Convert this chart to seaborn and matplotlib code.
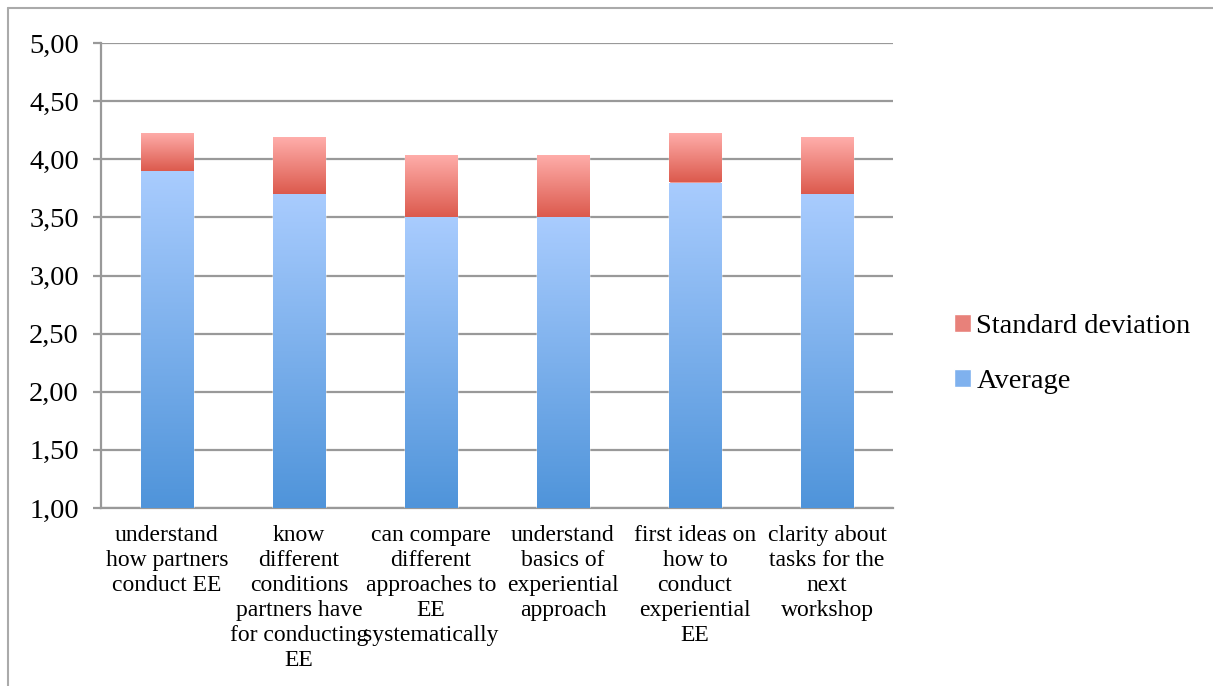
import seaborn as sns
import matplotlib.pyplot as plt
import matplotlib.ticker as mticker
import matplotlib.patches as mpatches
from matplotlib.colors import LinearSegmentedColormap
from matplotlib.lines import Line2D
import numpy as np
import pandas as pd

# data
categories = ['understand how partners conduct EE',
              'know different conditions partners have for conducting EE',
              'can compare different approaches to EE systematically',
              'understand basics of experiential approach',
              'first ideas on how to conduct experiential EE',
              'clarity about tasks for the next workshop']
tick_labels = ['understand\nhow partners\nconduct EE',
               'know\ndifferent\nconditions\npartners have\nfor conducting\nEE',
               'can compare\ndifferent\napproaches to\nEE\nsystematically',
               'understand\nbasics of\nexperiential\napproach',
               'first ideas on\nhow to\nconduct\nexperiential\nEE',
               'clarity about\ntasks for the\nnext\nworkshop']
average = [3.90, 3.70, 3.50, 3.50, 3.80, 3.70]
std_dev = [0.33, 0.49, 0.54, 0.54, 0.43, 0.49]

df = pd.DataFrame({'Category': categories, 'Average': average, 'SD': std_dev})
df['Total'] = df['Average'] + df['SD']

sns.set_style('white')
plt.rcParams['font.family'] = ['Liberation Serif', 'DejaVu Serif']
plt.rcParams['text.color'] = 'black'

fig = plt.figure(figsize=(12.13, 6.86), dpi=100)
ax = fig.add_axes([101 / 1213, 1 - 508 / 686, (893 - 101) / 1213, (508 - 43) / 686])

ymin, ymax = 1.0, 5.0
sns.barplot(data=df, x='Category', y='Total', color='#e8817a', width=0.4,
            saturation=1, ax=ax, zorder=3)
sns.barplot(data=df, x='Category', y='Average', color='#7fb1ee', width=0.4,
            saturation=1, ax=ax, zorder=3)

# vertical gradients like the original
red_cm = LinearSegmentedColormap.from_list('r', ['#dc5a4d', '#ffaeab'])
blue_cm = LinearSegmentedColormap.from_list('b', ['#4f94da', '#a9ccfe'])
grad = np.linspace(0, 1, 256).reshape(-1, 1)
n = len(categories)
for i, p in enumerate(list(ax.patches)):
    cm = red_cm if i < n else blue_cm
    x0, w = p.get_x(), p.get_width()
    y1 = p.get_height()
    y0 = average[i] if i < n else ymin
    im = ax.imshow(grad, cmap=cm, origin='lower', aspect='auto',
                   extent=[x0, x0 + w, y0, y1], zorder=4)
    im.set_clip_path(p)

ax.set_xlim(-0.5, n - 0.5)
ax.set_ylim(ymin, ymax)
ax.yaxis.set_major_locator(mticker.MultipleLocator(0.5))
ax.yaxis.set_major_formatter(mticker.FuncFormatter(lambda v, _: f'{v:.2f}'.replace('.', ',')))

ax.grid(axis='y', color='#999999', linewidth=1.6, zorder=0)
ax.set_axisbelow(True)
for s in ['top', 'right']:
    ax.spines[s].set_visible(False)
for s in ['left', 'bottom']:
    ax.spines[s].set_color('#999999')
    ax.spines[s].set_linewidth(1.6)

ax.set_xticks(range(n))
ax.set_xticklabels(tick_labels, fontsize=17, linespacing=1.25, va='top')
ax.tick_params(axis='x', length=0, pad=12, labelcolor='black')
ax.set_xticks(np.arange(-0.5, n, 1), minor=True)
ax.tick_params(axis='x', which='minor', length=7, width=1.6, color='#999999', direction='out')
ax.tick_params(axis='y', labelsize=20.5, length=6, width=1.6, color='#999999',
               direction='out', left=True, pad=10, labelcolor='black')
ax.set_xlabel('')
ax.set_ylabel('')

handles = [mpatches.Patch(facecolor='#e8817a', label='Standard deviation'),
           mpatches.Patch(facecolor='#7fb1ee', label='Average')]
fig.legend(handles=handles, loc='center left', bbox_to_anchor=(928 / 1213, 1 - 354 / 686),
           frameon=False, fontsize=20.5, handlelength=0.6, handleheight=0.6,
           handletextpad=0.2, labelspacing=1.05, labelcolor='black')

# outer frame lines (top and left)
fig.add_artist(Line2D([8 / 1213, 1], [1 - 8 / 686, 1 - 8 / 686], color='#aaaaaa', lw=1.5))
fig.add_artist(Line2D([8 / 1213, 8 / 1213], [0, 1 - 8 / 686], color='#aaaaaa', lw=1.5))

fig.savefig('out.png', dpi=100)
